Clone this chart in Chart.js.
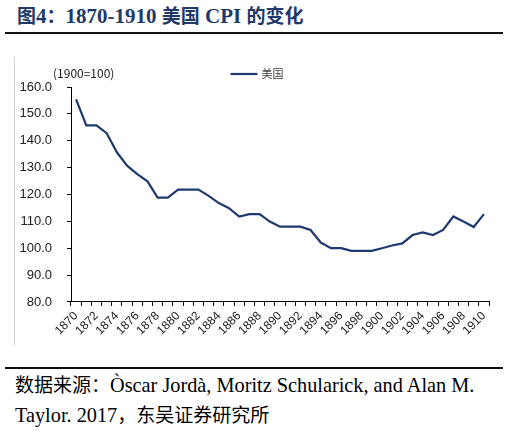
<!DOCTYPE html>
<html>
<head>
<meta charset="utf-8">
<script src="https://cdn.jsdelivr.net/npm/chart.js@4.4.0/dist/chart.umd.min.js"></script>
<style>
  html, body { margin: 0; padding: 0; background: #fff; }
  body { width: 509px; height: 434px; position: relative; overflow: hidden; }
  #title { position: absolute; left: 17px; top: 2px; white-space: nowrap; color: #1F3A68; font-weight: bold; line-height: 26px; }
  #title .lat { font-family: "Liberation Serif", serif; font-size: 21px; }
  #title .cjk { font-family: "Noto Sans CJK SC", sans-serif; font-size: 19px; }
  .rule { position: absolute; left: 5px; width: 498px; height: 2px; background: #111; }
  #frame { position: absolute; left: 14px; top: 57px; width: 1px; height: 288px; background: #d0d0d0; }
  #c { position: absolute; left: 15px; top: 57px; }
  #src { position: absolute; left: 15px; top: 370px; color: #000; line-height: 27px; white-space: nowrap; }
  #src .lat { font-family: "Liberation Serif", serif; font-size: 20.3px; }
  #src .cjk { font-family: "Noto Sans CJK SC", sans-serif; font-size: 19px; }
</style>
</head>
<body>
<div id="title"><span class="cjk">图</span><span class="lat">4</span><span class="cjk">：</span><span class="lat">1870-1910 </span><span class="cjk">美国</span><span class="lat"> CPI </span><span class="cjk">的变化</span></div>
<div class="rule" style="top:32px"></div>
<div id="frame"></div>
<canvas id="c" width="490" height="288"></canvas>
<div class="rule" style="top:367px"></div>
<div id="src"><span class="cjk">数据来源：</span><span class="lat">Òscar Jordà, Moritz Schularick, and Alan M.</span><br><span class="lat">Taylor. 2017</span><span class="cjk">，东吴证券研究所</span></div>
<script>
const years = ["1870","1871","1872","1873","1874","1875","1876","1877","1878","1879",
  "1880","1881","1882","1883","1884","1885","1886","1887","1888","1889",
  "1890","1891","1892","1893","1894","1895","1896","1897","1898","1899",
  "1900","1901","1902","1903","1904","1905","1906","1907","1908","1909","1910"];
const cpiUS = [155.4,145.7,145.7,142.8,135.7,130.7,127.6,124.9,118.8,118.8,
  121.8,121.8,121.8,119.5,116.8,114.9,111.8,112.7,112.7,109.9,
  108.0,108.0,108.0,106.8,102.1,100.0,100.0,99.0,99.0,99.0,
  100.0,101.0,101.8,104.9,105.9,104.9,106.8,111.8,109.9,107.9,112.7];
const seriesName = "美国";
const unitNote = "(1900=100)";
const yMin = 80, yMax = 160, yStep = 10;

const lineColor = "#1F3A70";

const notePlugin = {
  id: "notes",
  afterDraw(chart) {
    const ctx = chart.ctx;
    const a = chart.chartArea;
    ctx.save();
    ctx.font = "12px 'Noto Sans CJK SC', 'Liberation Sans', sans-serif";
    ctx.fillStyle = "#222";
    ctx.textBaseline = "middle";
    ctx.textAlign = "left";
    ctx.fillText(unitNote, a.left - 18, a.top - 14);
    const ds = chart.data.datasets[0];
    ctx.font = "11px 'Noto Sans CJK SC', sans-serif";
    const tw = ctx.measureText(ds.label).width;
    const total = 27 + 4 + tw;
    const x0 = chart.width / 2 - total / 2 - 3;
    const y0 = a.top - 13;
    ctx.strokeStyle = ds.borderColor;
    ctx.lineWidth = 2.2;
    ctx.beginPath();
    ctx.moveTo(x0, y0);
    ctx.lineTo(x0 + 27, y0);
    ctx.stroke();
    ctx.fillStyle = "#404040";
    ctx.fillText(ds.label, x0 + 31, y0);
    ctx.restore();
  }
};

new Chart(document.getElementById("c"), {
  type: "line",
  data: {
    labels: years,
    datasets: [{
      label: seriesName,
      data: cpiUS,
      borderColor: lineColor,
      backgroundColor: lineColor,
      borderWidth: 2.2,
      pointRadius: 0,
      tension: 0
    }]
  },
  options: {
    responsive: false,
    animation: false,
    layout: { autoPadding: false, padding: { left: 4, right: 16, top: 30, bottom: 4 } },
    plugins: {
      legend: { display: false },
      tooltip: { enabled: false }
    },
    scales: {
      x: {
        type: "category",
        offset: true,
        grid: { offset: true, drawOnChartArea: false, drawTicks: true, tickLength: 4, color: "#000", lineWidth: 1 },
        border: { color: "#000", width: 1 },
        ticks: {
          autoSkip: false,
          maxRotation: 45,
          minRotation: 45,
          padding: 3,
          color: "#222",
          font: { family: "'Liberation Sans', Arial, sans-serif", size: 12 },
          callback: function(v, i) { return i % 2 === 0 ? years[i] : ""; }
        }
      },
      y: {
        min: yMin,
        max: yMax,
        afterFit: function(s) { s.width = 52; },
        grid: { drawOnChartArea: false, drawTicks: true, tickLength: 4, color: "#000", lineWidth: 1 },
        border: { color: "#000", width: 1 },
        ticks: {
          stepSize: yStep,
          padding: 15,
          color: "#222",
          font: { family: "'Liberation Sans', Arial, sans-serif", size: 13 },
          callback: function(v) { return Number(v).toFixed(1); }
        }
      }
    }
  },
  plugins: [notePlugin]
});
</script>
</body>
</html>
